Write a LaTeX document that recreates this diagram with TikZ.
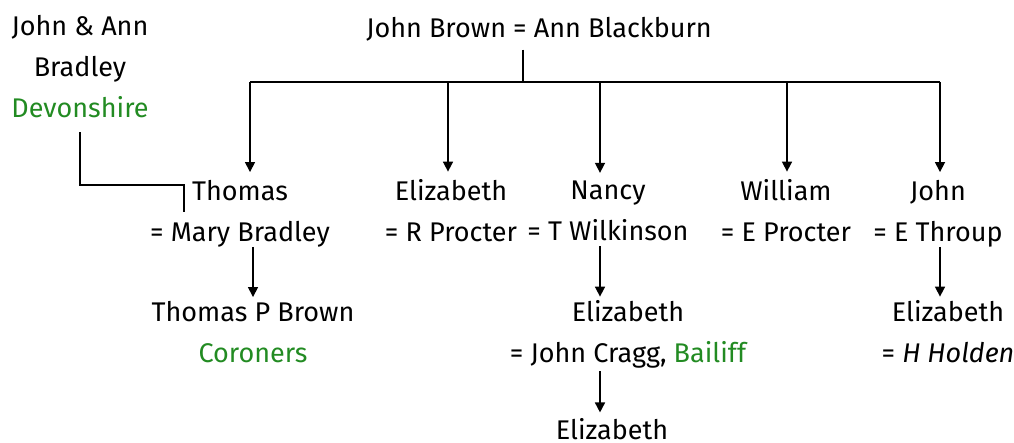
\documentclass[tikz,border=0pt]{standalone}
\usepackage{fontspec}
\setmainfont{Fira Sans}
\usepackage{xcolor}
\usepackage{tikz}
\usetikzlibrary{arrows.meta, positioning, calc}

\definecolor{placegreen}{RGB}{34,139,34}

\begin{document}
\begin{tikzpicture}[
    x=1pt, y=-1pt,
    person/.style={align=center, inner sep=0pt, font=\fontsize{27}{41}\selectfont,
        execute at begin node=\strut, execute at end node=\strut},
    line/.style={line width=1.6pt},
    arrow/.style={-{Triangle[length=10pt, width=10pt]}, line width=1.6pt},
]

\useasboundingbox (0,0) rectangle (1014,443);

\node[person] (bradley) at (80,73) {John \& Ann\\Bradley\\\textcolor{placegreen}{Devonshire}};
\node[person] (parents) at (539,29) {John Brown = Ann Blackburn};

\node[person] (thomas) at (240,217) {Thomas\\= Mary Bradley};
\node[person] (eliz1) at (451,217) {Elizabeth\\= R Procter};
\node[person] (nancy) at (608,217) {Nancy\\= T Wilkinson};
\node[person] (william) at (786,217) {William\\= E Procter};
\node[person] (john) at (938,217) {John\\= E Throup};

\node[person] (tpbrown) at (253,338) {Thomas P Brown\\\textcolor{placegreen}{Coroners}};
\node[person] (eliz2) at (628,338) {Elizabeth\\= John Cragg, \textcolor{placegreen}{Bailiff}};
\node[person] (eliz3) at (948,338) {Elizabeth\\= \textit{H Holden}};
\node[person, text depth=0pt] (eliz4) at (612,425) {Elizabeth};

\coordinate (bus) at (523,82);

\draw[line] (parents.south -| bus) -- (bus);
\draw[line] ([xshift=10pt]thomas.north |- bus) -- ([xshift=2pt]john.north |- bus);
\foreach \child/\dx in {thomas/10, eliz1/-3, nancy/-8, william/1, john/2}
  \draw[arrow] ([xshift=\dx pt]\child.north |- bus) -- ([xshift=\dx pt, yshift=8pt]\child.north);

\draw[line] ([yshift=-2pt]bradley.south) |- ([xshift=-56pt, yshift=32pt]thomas.center) -- ([xshift=-56pt, yshift=5pt]thomas.center);

\draw[arrow] ([xshift=13pt, yshift=7pt]thomas.south) -- ([xshift=13pt, yshift=4pt]tpbrown.north -| thomas.south);
\draw[arrow] ([xshift=-8pt, yshift=7pt]nancy.south) -- ([xshift=-8pt, yshift=4pt]eliz2.north -| nancy.south);
\draw[arrow] ([xshift=2pt, yshift=7pt]john.south) -- ([xshift=2pt, yshift=4pt]eliz3.north -| john.south);
\draw[arrow] ([xshift=-28pt, yshift=4pt]eliz2.south) -- ([xshift=-28pt, yshift=-2pt]eliz4.north -| eliz2.south);

\end{tikzpicture}
\end{document}
